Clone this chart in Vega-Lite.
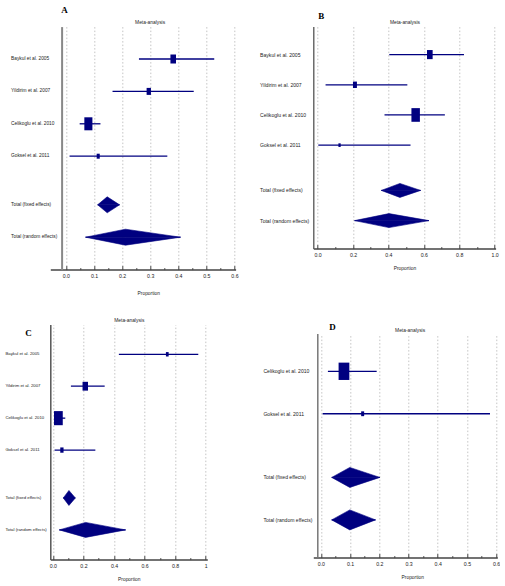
{
  "$schema": "https://vega.github.io/schema/vega-lite/v6.json",
  "autosize": {"type": "pad"},
  "padding": {"left": 4.3, "top": 5.6, "right": 0, "bottom": 0},
  "background": "#ffffff",
  "config": {
    "view": {"stroke": null},
    "axis": {"labelFont": "Liberation Sans", "titleFont": "Liberation Sans", "labelColor": "#222222", "titleColor": "#222222", "titleFontWeight": "normal", "labelFontSize": 5.2, "titleFontSize": 4.9},
    "title": {"font": "Liberation Serif", "fontSize": 9, "fontWeight": "bold", "color": "#000000", "anchor": "start", "frame": "group", "offset": 1}
  },
  "datasets": {
    "A": [
      {"label": "Baykul et al. 2005", "row": 1, "est": 0.382, "lo": 0.26, "hi": 0.528, "w": 25.0, "kind": "study"},
      {"label": "Yildirim et al. 2007", "row": 2, "est": 0.295, "lo": 0.166, "hi": 0.455, "w": 15.1, "kind": "study"},
      {"label": "Celikoglu et al. 2010", "row": 3, "est": 0.08, "lo": 0.049, "hi": 0.123, "w": 52.2, "kind": "study"},
      {"label": "Goksel et al. 2011", "row": 4, "est": 0.115, "lo": 0.013, "hi": 0.361, "w": 7.7, "kind": "study"},
      {"label": "Total (fixed effects)", "row": 5.5, "est": 0.147, "lo": 0.113, "hi": 0.191, "kind": "total"},
      {"label": "Total (random effects)", "row": 6.5, "est": 0.212, "lo": 0.07, "hi": 0.408, "kind": "total"}
    ],
    "B": [
      {"label": "Baykul et al. 2005", "row": 1, "est": 0.634, "lo": 0.405, "hi": 0.827, "w": 25.6, "kind": "study"},
      {"label": "Yildirim et al. 2007", "row": 2, "est": 0.211, "lo": 0.045, "hi": 0.507, "w": 12.6, "kind": "study"},
      {"label": "Celikoglu et al. 2010", "row": 3, "est": 0.554, "lo": 0.378, "hi": 0.719, "w": 57.7, "kind": "study"},
      {"label": "Goksel et al. 2011", "row": 4, "est": 0.124, "lo": 0.004, "hi": 0.525, "w": 4.1, "kind": "study"},
      {"label": "Total (fixed effects)", "row": 5.5, "est": 0.465, "lo": 0.36, "hi": 0.582, "kind": "total"},
      {"label": "Total (random effects)", "row": 6.5, "est": 0.403, "lo": 0.209, "hi": 0.629, "kind": "total"}
    ],
    "C": [
      {"label": "Baykul et al. 2005", "row": 1, "est": 0.749, "lo": 0.432, "hi": 0.952, "w": 6.0, "kind": "study"},
      {"label": "Yildirim et al. 2007", "row": 2, "est": 0.212, "lo": 0.118, "hi": 0.339, "w": 24.0, "kind": "study"},
      {"label": "Celikoglu et al. 2010", "row": 3, "est": 0.036, "lo": 0.007, "hi": 0.081, "w": 61.4, "kind": "study"},
      {"label": "Goksel et al. 2011", "row": 4, "est": 0.059, "lo": 0.011, "hi": 0.278, "w": 8.6, "kind": "study"},
      {"label": "Total (fixed effects)", "row": 5.5, "est": 0.105, "lo": 0.068, "hi": 0.147, "kind": "total"},
      {"label": "Total (random effects)", "row": 6.5, "est": 0.214, "lo": 0.042, "hi": 0.476, "kind": "total"}
    ],
    "D": [
      {"label": "Celikoglu et al. 2010", "row": 1, "est": 0.079, "lo": 0.024, "hi": 0.191, "w": 92.8, "kind": "study"},
      {"label": "Goksel et al. 2011", "row": 2, "est": 0.143, "lo": 0.006, "hi": 0.579, "w": 7.2, "kind": "study"},
      {"label": "Total (fixed effects)", "row": 3.5, "est": 0.099, "lo": 0.037, "hi": 0.202, "kind": "total"},
      {"label": "Total (random effects)", "row": 4.5, "est": 0.099, "lo": 0.037, "hi": 0.187, "kind": "total"}
    ]
  },
  "spacing": 21,
  "hconcat": [
    {
      "bounds": "flush",
      "spacing": 55,
      "vconcat": [
        {
          "data": {"name": "A"},
          "width": 185.3,
          "height": 243,
          "title": {"text": "A", "dx": 11, "offset": 4},
          "encoding": {
            "y": {"field": "row", "type": "ordinal",
              "scale": {"type": "band", "domain": [0.5, 1, 1.5, 2, 2.5, 3, 3.5, 4, 4.5, 5, 5.5, 6, 6.5, 7], "paddingInner": 0, "paddingOuter": 0.5},
              "axis": {"values": [1, 2, 3, 4, 5.5, 6.5], "title": null, "ticks": false, "grid": false, "domainColor": "#888888", "domainWidth": 2, "offset": -11.3, "labelAlign": "left", "labelBaseline": "middle", "labelPadding": 51, "labelFontSize": 4.8, "labelExpr": "pluck(data('A'),'label')[indexof(pluck(data('A'),'row'),datum.value)]"}}
          },
          "layer": [
            {
              "transform": [{"filter": "datum.kind == 'study'"}],
              "mark": {"type": "rule", "color": "#000080", "strokeWidth": 1.3},
              "encoding": {
                "x": {"field": "lo", "type": "quantitative", "scale": {"domain": [-0.0555, 0.604], "nice": false, "zero": false},
                  "axis": {"orient": "bottom", "title": "Proportion", "titlePadding": 9.5, "titleX": 98,
                    "values": [0, 0.05, 0.1, 0.15, 0.2, 0.25, 0.3, 0.35, 0.4, 0.45, 0.5, 0.55, 0.6],
                    "labelExpr": "abs(datum.value*10-round(datum.value*10))<0.001 ? format(datum.value,'.1f') : ''",
                    "labelFlush": false, "labelOverlap": false, "labelPadding": 8,
                    "domainColor": "#444444", "domainWidth": 1.5, "tickColor": "#444444", "tickWidth": 1,
                    "tickSize": {"condition": {"test": "abs(datum.value*10-round(datum.value*10))<0.001", "value": -4}, "value": -2},
                    "grid": true, "gridColor": "#b5b5b5", "gridWidth": 0.8, "gridDash": [1.5, 2],
                    "gridOpacity": {"condition": {"test": "abs(datum.value*10-round(datum.value*10))<0.001", "value": 1}, "value": 0}}},
                "x2": {"field": "hi"}
              }
            },
            {
              "transform": [{"filter": "datum.kind == 'study'"}],
              "mark": {"type": "point", "shape": "M-0.62,-1H0.62V1H-0.62Z", "filled": true, "color": "#000080", "opacity": 1, "strokeWidth": 0},
              "encoding": {
                "x": {"field": "est", "type": "quantitative", "scale": {"domain": [-0.0555, 0.604], "nice": false, "zero": false},
                  "axis": {"orient": "top", "title": "Meta-analysis", "titlePadding": 2.5, "titleX": 99.3, "labels": false, "ticks": false, "domain": false, "grid": false}},
                "size": {"field": "w", "type": "quantitative", "scale": {"domain": [0, 100], "range": [0, 324]}, "legend": null}
              }
            },
            {
              "transform": [{"filter": "datum.kind == 'total'"}, {"fold": ["lo", "est", "hi"], "as": ["vertex", "x"]}, {"window": [{"op": "rank", "as": "k"}], "groupby": ["label"], "sort": [{"field": "x", "order": "ascending"}]}],
              "mark": {"type": "area", "orient": "vertical", "color": "#000080", "opacity": 1, "stroke": "#000080", "strokeWidth": 0.6},
              "encoding": {
                "x": {"field": "x", "type": "quantitative", "stack": null, "scale": {"domain": [-0.0555, 0.604], "nice": false, "zero": false}, "axis": null},
                "y2": {"field": "row", "bandPosition": 0.5},
                "yOffset": {"field": "k", "type": "quantitative", "scale": {"domain": [1, 2, 3], "range": [8.1, 0.1, 8.1]}},
                "detail": {"field": "label"}
              }
            },
            {
              "transform": [{"filter": "datum.kind == 'total'"}, {"fold": ["lo", "est", "hi"], "as": ["vertex", "x"]}, {"window": [{"op": "rank", "as": "k"}], "groupby": ["label"], "sort": [{"field": "x", "order": "ascending"}]}],
              "mark": {"type": "area", "orient": "vertical", "color": "#000080", "opacity": 1, "stroke": "#000080", "strokeWidth": 0.6},
              "encoding": {
                "x": {"field": "x", "type": "quantitative", "stack": null, "scale": {"domain": [-0.0555, 0.604], "nice": false, "zero": false}, "axis": null},
                "y2": {"field": "row", "bandPosition": 0.5},
                "yOffset": {"field": "k", "type": "quantitative", "scale": {"domain": [1, 2, 3], "range": [8.1, 16.1, 8.1]}},
                "detail": {"field": "label"}
              }
            }
          ],
          "resolve": {"axis": {"x": "independent"}, "scale": {"yOffset": "independent"}}
        },
        {
          "data": {"name": "C"},
          "width": 157,
          "height": 235,
          "title": {"text": "C", "dx": -25, "dy": 22.4},
          "encoding": {
            "y": {"field": "row", "type": "ordinal",
              "scale": {"type": "band", "domain": [0.5, 1, 1.5, 2, 2.5, 3, 3.5, 4, 4.5, 5, 5.5, 6, 6.5, 7], "paddingInner": 0, "paddingOuter": 0.36},
              "axis": {"values": [1, 2, 3, 4, 5.5, 6.5], "title": null, "ticks": false, "grid": false, "domainColor": "#555555", "domainWidth": 1.5, "labelAlign": "left", "labelBaseline": "middle", "labelPadding": 45.4, "labelFontSize": 4.3, "labelExpr": "pluck(data('C'),'label')[indexof(pluck(data('C'),'row'),datum.value)]"}}
          },
          "layer": [
            {
              "transform": [{"filter": "datum.kind == 'study'"}],
              "mark": {"type": "rule", "color": "#000080", "strokeWidth": 1.3},
              "encoding": {
                "x": {"field": "lo", "type": "quantitative", "scale": {"domain": [-0.017, 1.011], "nice": false, "zero": false},
                  "axis": {"orient": "bottom", "title": "Proportion", "titlePadding": 6,
                    "values": [0, 0.1, 0.2, 0.3, 0.4, 0.5, 0.6, 0.7, 0.8, 0.9, 1],
                    "labelExpr": "abs(datum.value*5-round(datum.value*5))<0.001 ? (datum.value == 1 ? '1' : format(datum.value,'.1f')) : ''",
                    "labelFlush": false, "labelOverlap": false, "labelPadding": 7.5,
                    "domainColor": "#444444", "domainWidth": 1.5, "tickColor": "#444444", "tickWidth": 1,
                    "tickSize": {"condition": {"test": "abs(datum.value*5-round(datum.value*5))<0.001", "value": -4}, "value": -2},
                    "grid": true, "gridColor": "#b5b5b5", "gridWidth": 0.8, "gridDash": [1.5, 2],
                    "gridOpacity": {"condition": {"test": "abs(datum.value*5-round(datum.value*5))<0.001", "value": 1}, "value": 0}}},
                "x2": {"field": "hi"}
              }
            },
            {
              "transform": [{"filter": "datum.kind == 'study'"}],
              "mark": {"type": "point", "shape": "M-0.62,-1H0.62V1H-0.62Z", "filled": true, "color": "#000080", "opacity": 1, "strokeWidth": 0},
              "encoding": {
                "x": {"field": "est", "type": "quantitative", "scale": {"domain": [-0.017, 1.011], "nice": false, "zero": false},
                  "axis": {"orient": "top", "title": "Meta-analysis", "titlePadding": 2.5, "labels": false, "ticks": false, "domain": false, "grid": false}},
                "size": {"field": "w", "type": "quantitative", "scale": {"domain": [0, 100], "range": [0, 417]}, "legend": null}
              }
            },
            {
              "transform": [{"filter": "datum.kind == 'total'"}, {"fold": ["lo", "est", "hi"], "as": ["vertex", "x"]}, {"window": [{"op": "rank", "as": "k"}], "groupby": ["label"], "sort": [{"field": "x", "order": "ascending"}]}],
              "mark": {"type": "area", "orient": "vertical", "color": "#000080", "opacity": 1, "stroke": "#000080", "strokeWidth": 0.6},
              "encoding": {
                "x": {"field": "x", "type": "quantitative", "stack": null, "scale": {"domain": [-0.017, 1.011], "nice": false, "zero": false}, "axis": null},
                "y2": {"field": "row", "bandPosition": 0.5},
                "yOffset": {"field": "k", "type": "quantitative", "scale": {"domain": [1, 2, 3], "range": [7.98, 0.48, 7.98]}},
                "detail": {"field": "label"}
              }
            },
            {
              "transform": [{"filter": "datum.kind == 'total'"}, {"fold": ["lo", "est", "hi"], "as": ["vertex", "x"]}, {"window": [{"op": "rank", "as": "k"}], "groupby": ["label"], "sort": [{"field": "x", "order": "ascending"}]}],
              "mark": {"type": "area", "orient": "vertical", "color": "#000080", "opacity": 1, "stroke": "#000080", "strokeWidth": 0.6},
              "encoding": {
                "x": {"field": "x", "type": "quantitative", "stack": null, "scale": {"domain": [-0.017, 1.011], "nice": false, "zero": false}, "axis": null},
                "y2": {"field": "row", "bandPosition": 0.5},
                "yOffset": {"field": "k", "type": "quantitative", "scale": {"domain": [1, 2, 3], "range": [7.98, 15.48, 7.98]}},
                "detail": {"field": "label"}
              }
            }
          ],
          "resolve": {"axis": {"x": "independent"}, "scale": {"yOffset": "independent"}}
        }
      ]
    },
    {
      "bounds": "flush",
      "spacing": 85,
      "vconcat": [
        {
          "data": {"name": "B"},
          "width": 182.3,
          "height": 222,
          "title": {"text": "B", "dx": 5, "dy": 3},
          "encoding": {
            "y": {"field": "row", "type": "ordinal",
              "scale": {"type": "band", "domain": [0.5, 1, 1.5, 2, 2.5, 3, 3.5, 4, 4.5, 5, 5.5, 6, 6.5, 7], "paddingInner": 0, "paddingOuter": 0.355},
              "axis": {"values": [1, 2, 3, 4, 5.5, 6.5], "title": null, "ticks": false, "grid": false, "domainColor": "#555555", "domainWidth": 1.3, "labelAlign": "left", "labelBaseline": "middle", "labelPadding": 53.7, "labelFontSize": 5.1, "labelExpr": "pluck(data('B'),'label')[indexof(pluck(data('B'),'row'),datum.value)]"}}
          },
          "layer": [
            {
              "transform": [{"filter": "datum.kind == 'study'"}],
              "mark": {"type": "rule", "color": "#000080", "strokeWidth": 1.3},
              "encoding": {
                "x": {"field": "lo", "type": "quantitative", "scale": {"domain": [-0.0243, 1.0056], "nice": false, "zero": false},
                  "axis": {"orient": "bottom", "title": "Proportion", "titlePadding": 5.5,
                    "values": [0, 0.1, 0.2, 0.3, 0.4, 0.5, 0.6, 0.7, 0.8, 0.9, 1],
                    "labelExpr": "abs(datum.value*5-round(datum.value*5))<0.001 ? format(datum.value,'.1f') : ''",
                    "labelFlush": false, "labelOverlap": false, "labelPadding": 8,
                    "domainColor": "#444444", "domainWidth": 1.5, "tickColor": "#444444", "tickWidth": 1,
                    "tickSize": {"condition": {"test": "abs(datum.value*5-round(datum.value*5))<0.001", "value": -4}, "value": -2},
                    "grid": true, "gridColor": "#b5b5b5", "gridWidth": 0.8, "gridDash": [1.5, 2],
                    "gridOpacity": {"condition": {"test": "abs(datum.value*5-round(datum.value*5))<0.001", "value": 1}, "value": 0}}},
                "x2": {"field": "hi"}
              }
            },
            {
              "transform": [{"filter": "datum.kind == 'study'"}],
              "mark": {"type": "point", "shape": "M-0.62,-1H0.62V1H-0.62Z", "filled": true, "color": "#000080", "opacity": 1, "strokeWidth": 0},
              "encoding": {
                "x": {"field": "est", "type": "quantitative", "scale": {"domain": [-0.0243, 1.0056], "nice": false, "zero": false},
                  "axis": {"orient": "top", "title": "Meta-analysis", "titlePadding": 2.5, "labels": false, "ticks": false, "domain": false, "grid": false}},
                "size": {"field": "w", "type": "quantitative", "scale": {"domain": [0, 100], "range": [0, 390]}, "legend": null}
              }
            },
            {
              "transform": [{"filter": "datum.kind == 'total'"}, {"fold": ["lo", "est", "hi"], "as": ["vertex", "x"]}, {"window": [{"op": "rank", "as": "k"}], "groupby": ["label"], "sort": [{"field": "x", "order": "ascending"}]}],
              "mark": {"type": "area", "orient": "vertical", "color": "#000080", "opacity": 1, "stroke": "#000080", "strokeWidth": 0.6},
              "encoding": {
                "x": {"field": "x", "type": "quantitative", "stack": null, "scale": {"domain": [-0.0243, 1.0056], "nice": false, "zero": false}, "axis": null},
                "y2": {"field": "row", "bandPosition": 0.5},
                "yOffset": {"field": "k", "type": "quantitative", "scale": {"domain": [1, 2, 3], "range": [7.55, 0.55, 7.55]}},
                "detail": {"field": "label"}
              }
            },
            {
              "transform": [{"filter": "datum.kind == 'total'"}, {"fold": ["lo", "est", "hi"], "as": ["vertex", "x"]}, {"window": [{"op": "rank", "as": "k"}], "groupby": ["label"], "sort": [{"field": "x", "order": "ascending"}]}],
              "mark": {"type": "area", "orient": "vertical", "color": "#000080", "opacity": 1, "stroke": "#000080", "strokeWidth": 0.6},
              "encoding": {
                "x": {"field": "x", "type": "quantitative", "stack": null, "scale": {"domain": [-0.0243, 1.0056], "nice": false, "zero": false}, "axis": null},
                "y2": {"field": "row", "bandPosition": 0.5},
                "yOffset": {"field": "k", "type": "quantitative", "scale": {"domain": [1, 2, 3], "range": [7.55, 14.55, 7.55]}},
                "detail": {"field": "label"}
              }
            }
          ],
          "resolve": {"axis": {"x": "independent"}, "scale": {"yOffset": "independent"}}
        },
        {
          "data": {"name": "D"},
          "width": 184,
          "height": 224,
          "title": {"text": "D", "dx": 16, "dy": 6},
          "encoding": {
            "y": {"field": "row", "type": "ordinal",
              "scale": {"type": "band", "domain": [0.5, 1, 1.5, 2, 2.5, 3, 3.5, 4, 4.5, 5], "paddingInner": 0, "paddingOuter": 0.276},
              "axis": {"values": [1, 2, 3.5, 4.5], "title": null, "ticks": false, "grid": false, "domainColor": "#777777", "domainWidth": 1.5, "offset": -4, "labelAlign": "left", "labelBaseline": "middle", "labelPadding": 54.4, "labelFontSize": 5.1, "labelExpr": "pluck(data('D'),'label')[indexof(pluck(data('D'),'row'),datum.value)]"}}
          },
          "layer": [
            {
              "transform": [{"filter": "datum.kind == 'study'"}],
              "mark": {"type": "rule", "color": "#000080", "strokeWidth": 1.3},
              "encoding": {
                "x": {"field": "lo", "type": "quantitative", "scale": {"domain": [-0.026, 0.604], "nice": false, "zero": false},
                  "axis": {"orient": "bottom", "title": "Proportion", "titlePadding": 6, "titleX": 99,
                    "values": [0, 0.05, 0.1, 0.15, 0.2, 0.25, 0.3, 0.35, 0.4, 0.45, 0.5, 0.55, 0.6],
                    "labelExpr": "abs(datum.value*10-round(datum.value*10))<0.001 ? format(datum.value,'.1f') : ''",
                    "labelFlush": false, "labelOverlap": false, "labelPadding": 7.5,
                    "domainColor": "#444444", "domainWidth": 1.5, "tickColor": "#444444", "tickWidth": 1,
                    "tickSize": {"condition": {"test": "abs(datum.value*10-round(datum.value*10))<0.001", "value": -4}, "value": -2},
                    "grid": true, "gridColor": "#b5b5b5", "gridWidth": 0.8, "gridDash": [1.5, 2],
                    "gridOpacity": {"condition": {"test": "abs(datum.value*10-round(datum.value*10))<0.001", "value": 1}, "value": 0}}},
                "x2": {"field": "hi"}
              }
            },
            {
              "transform": [{"filter": "datum.kind == 'study'"}],
              "mark": {"type": "point", "shape": "M-0.62,-1H0.62V1H-0.62Z", "filled": true, "color": "#000080", "opacity": 1, "strokeWidth": 0},
              "encoding": {
                "x": {"field": "est", "type": "quantitative", "scale": {"domain": [-0.026, 0.604], "nice": false, "zero": false},
                  "axis": {"orient": "top", "title": "Meta-analysis", "titlePadding": 1.5, "titleX": 96.3, "labels": false, "ticks": false, "domain": false, "grid": false}},
                "size": {"field": "w", "type": "quantitative", "scale": {"domain": [0, 100], "range": [0, 349]}, "legend": null}
              }
            },
            {
              "transform": [{"filter": "datum.kind == 'total'"}, {"fold": ["lo", "est", "hi"], "as": ["vertex", "x"]}, {"window": [{"op": "rank", "as": "k"}], "groupby": ["label"], "sort": [{"field": "x", "order": "ascending"}]}],
              "mark": {"type": "area", "orient": "vertical", "color": "#000080", "opacity": 1, "stroke": "#000080", "strokeWidth": 0.6},
              "encoding": {
                "x": {"field": "x", "type": "quantitative", "stack": null, "scale": {"domain": [-0.026, 0.604], "nice": false, "zero": false}, "axis": null},
                "y2": {"field": "row", "bandPosition": 0.5},
                "yOffset": {"field": "k", "type": "quantitative", "scale": {"domain": [1, 2, 3], "range": [10.61, 0.61, 10.61]}},
                "detail": {"field": "label"}
              }
            },
            {
              "transform": [{"filter": "datum.kind == 'total'"}, {"fold": ["lo", "est", "hi"], "as": ["vertex", "x"]}, {"window": [{"op": "rank", "as": "k"}], "groupby": ["label"], "sort": [{"field": "x", "order": "ascending"}]}],
              "mark": {"type": "area", "orient": "vertical", "color": "#000080", "opacity": 1, "stroke": "#000080", "strokeWidth": 0.6},
              "encoding": {
                "x": {"field": "x", "type": "quantitative", "stack": null, "scale": {"domain": [-0.026, 0.604], "nice": false, "zero": false}, "axis": null},
                "y2": {"field": "row", "bandPosition": 0.5},
                "yOffset": {"field": "k", "type": "quantitative", "scale": {"domain": [1, 2, 3], "range": [10.61, 20.61, 10.61]}},
                "detail": {"field": "label"}
              }
            }
          ],
          "resolve": {"axis": {"x": "independent"}, "scale": {"yOffset": "independent"}}
        }
      ]
    }
  ]
}
